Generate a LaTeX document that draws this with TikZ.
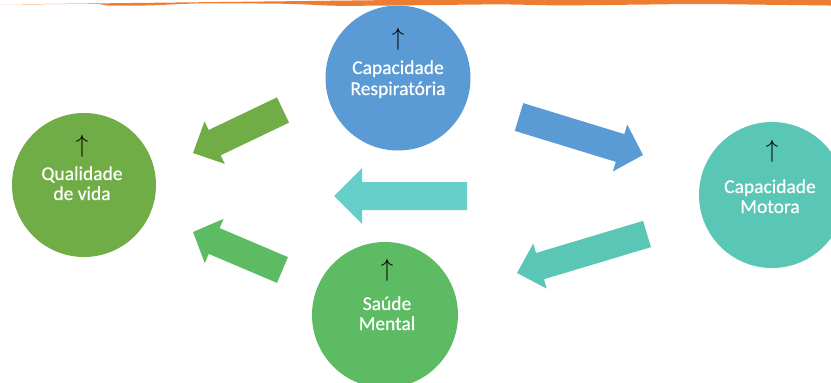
\documentclass[tikz,border=0pt]{standalone}
\usepackage{fontspec}
\setmainfont{Carlito}
\newfontfamily\lblfont[FakeBold=0.5]{Carlito}
\usetikzlibrary{calc}
\definecolor{cresp}{HTML}{5B9BD5}
\definecolor{cqual}{HTML}{70AD47}
\definecolor{cment}{HTML}{5CBB63}
\definecolor{cmoto}{HTML}{59C6B6}
\definecolor{cmid}{HTML}{66CFCA}
\definecolor{corange}{HTML}{ED7D31}
\newcommand\fatarrow[6]{%
  \coordinate (#2-#3-neck) at ($(#3)!#6!(#2)$);
  \fill[#1] ($(#2)!#4!90:(#3)$) -- ($(#2-#3-neck)!#4!90:(#3)$) -- ($(#2-#3-neck)!#5!90:(#3)$)
    -- (#3) -- ($(#2-#3-neck)!#5!-90:(#3)$) -- ($(#2-#3-neck)!#4!-90:(#3)$) -- ($(#2)!#4!-90:(#3)$) -- cycle;}
\tikzset{
  bubble/.style={circle, minimum size=#1, inner sep=0pt},
  lbl/.style={text=white, anchor=base, inner sep=0pt, font=\lblfont\fontsize{19.5}{21}\selectfont},
  up/.style={text=black, inner sep=0pt, font=\fontsize{27}{28}\selectfont},
}
\begin{document}
\begin{tikzpicture}[x=1pt,y=-1pt]
\clip (0,0) rectangle (831,383);
\fill[white] (0,0) rectangle (831,383);
% orange wavy band
\fill[corange] (-5,-5) -- (-5,4.5) plot[smooth] coordinates {(0,4.5) (50,4.2) (95,3.8) (110,5.6) (150,5.4) (200,3.4) (270,3.6) (300,4.2) (340,5.8) (420,5.2) (500,4.4) (560,5.4) (640,4.6) (700,4) (770,4.8) (836,5.6)} -- (836,-5) -- cycle;
% circles
\node[bubble=145pt, fill=cresp] (resp) at (398,78) {};
\node[bubble=144pt, fill=cqual] (qual) at (84,185) {};
\node[bubble=146pt, fill=cment] (ment) at (385,315) {};
\node[bubble=146pt, fill=cmoto] (moto) at (772,195) {};
% labels
\node[up] (respU) at (398,39) {$\uparrow$};
\node[lbl] (respA) at (398,74) {Capacidade};
\node[lbl] (respB) at (398,95) {Respiratória};
\node[up] (qualU) at (82,146) {$\uparrow$};
\node[lbl] (qualA) at (82,180) {Qualidade};
\node[lbl] (qualB) at (82,200) {de vida};
\node[up] (mentU) at (387,270) {$\uparrow$};
\node[lbl] (mentA) at (387,310) {Saúde};
\node[lbl] (mentB) at (387,330) {Mental};
\node[up] (motoU) at (772,151) {$\uparrow$};
\node[lbl] (motoA) at (770,193) {Capacidade};
\node[lbl] (motoB) at (770,213) {Motora};
% block arrows
\coordinate (a1t) at (283,110); \coordinate (a1h) at (193,153);
\coordinate (a2t) at (519,117); \coordinate (a2h) at (643,155);
\coordinate (a3t) at (467,196); \coordinate (a3h) at (334,196);
\coordinate (a4t) at (647,234); \coordinate (a4h) at (517,273);
\coordinate (a5t) at (282.5,270); \coordinate (a5h) at (193,232);
\fatarrow{cqual}{a1t}{a1h}{14pt}{23.5pt}{24pt}
\fatarrow{cresp}{a2t}{a2h}{14.5pt}{24.5pt}{24pt}
\fatarrow{cmid}{a3t}{a3h}{14pt}{28pt}{28pt}
\fatarrow{cmoto}{a4t}{a4h}{13.7pt}{23.5pt}{24pt}
\fatarrow{cment}{a5t}{a5h}{14pt}{24pt}{23pt}
\end{tikzpicture}
\end{document}
